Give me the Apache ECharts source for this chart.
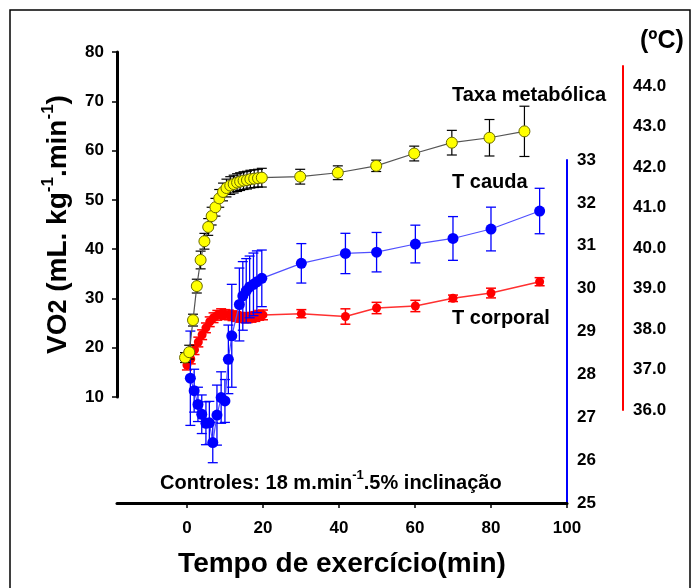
<!DOCTYPE html>
<html>
<head>
<meta charset="utf-8">
<script src="https://cdn.jsdelivr.net/npm/echarts@6/dist/echarts.min.js"></script>
<style>
  html, body { margin: 0; padding: 0; background: #fff; }
  #chart { width: 697px; height: 588px; }
</style>
</head>
<body>
<div id="chart"></div>
<script>
// Taxa metabólica (VO2, mL.kg-1.min-1) — left axis
const taxaTime = [-0.5, 0.6, 1.6, 2.6, 3.6, 4.6, 5.6, 6.5, 7.5, 8.5, 9.5, 10.4, 11.4, 12.3, 13.2, 14.0, 14.9, 15.8, 16.7, 17.7, 18.7, 19.7,
                  29.8, 39.7, 49.8, 59.8, 69.7, 79.6, 88.8];
const taxaVal  = [18.0, 19.1, 25.6, 32.5, 37.8, 41.6, 44.5, 46.7, 48.5, 50.3, 51.6, 52.4, 52.9, 53.2, 53.5, 53.7, 53.9, 54.0, 54.2, 54.3, 54.4, 54.5,
                  54.7, 55.5, 56.9, 59.4, 61.6, 62.6, 63.9];
const taxaErr  = [1.0, 1.4, 1.2, 1.4, 1.8, 1.6, 1.7, 1.8, 1.8, 1.8, 1.8, 1.8, 1.8, 1.8, 1.8, 1.8, 1.8, 1.8, 1.8, 1.8, 1.8, 1.9,
                  1.5, 1.4, 1.15, 1.5, 2.5, 3.7, 5.1];

// T cauda (ºC) — blue axis
const caudaTime = [0.9, 1.9, 2.9, 3.9, 5.0, 5.9, 6.8, 7.9, 9.0, 10.0, 10.9, 11.8, 13.8, 14.7, 15.6, 16.5, 17.5, 18.4, 19.7,
                   30.1, 41.7, 49.9, 60.1, 70.0, 80.0, 92.8];
const caudaVal  = [27.91, 27.62, 27.30, 27.07, 26.86, 26.87, 26.41, 27.05, 27.46, 27.38, 28.35, 28.90, 29.63, 29.83, 29.95, 30.04, 30.10, 30.16, 30.24,
                   30.59, 30.82, 30.85, 31.04, 31.17, 31.39, 31.81];
const caudaErr  = [1.1, 0.5, 0.4, 0.45, 0.5, 0.5, 0.47, 0.7, 0.6, 0.5, 0.8, 1.2, 0.85, 0.8, 0.75, 0.72, 0.73, 0.72, 0.66,
                   0.46, 0.47, 0.46, 0.44, 0.51, 0.51, 0.53];

// T corporal (ºC) — red axis
const corpTime = [0, 1, 2, 3, 4, 5, 6, 7, 8, 9, 10, 11, 12, 13, 14, 15, 16, 17, 18, 19, 20,
                  30.1, 41.7, 49.9, 60.1, 70.0, 80.0, 92.8];
const corpVal  = [37.11, 37.26, 37.49, 37.68, 37.86, 38.03, 38.18, 38.28, 38.34, 38.38, 38.36, 38.35, 38.33, 38.31, 38.29, 38.28, 38.28, 38.29, 38.31, 38.34, 38.35,
                  38.38, 38.31, 38.52, 38.57, 38.76, 38.89, 39.17];
const corpErr  = [0.12, 0.12, 0.12, 0.12, 0.12, 0.12, 0.12, 0.12, 0.12, 0.12, 0.12, 0.12, 0.12, 0.12, 0.12, 0.12, 0.12, 0.12, 0.12, 0.12, 0.12,
                  0.1, 0.19, 0.14, 0.14, 0.08, 0.12, 0.1];

// Axis ticks
const timeTicks  = [0, 20, 40, 60, 80, 100];
const tempTicks  = [36, 37, 38, 39, 40, 41, 42, 43, 44];

const FONT = '"Liberation Sans", Arial, sans-serif';

function pairs(ts, vs) { return ts.map((t, i) => [t, vs[i]]); }

function errorBars(xIdx, yIdx, ts, vs, es, color, width, z) {
  return {
    type: 'custom',
    xAxisIndex: xIdx, yAxisIndex: yIdx,
    z: z, silent: true, clip: false,
    data: ts.map((t, i) => [t, vs[i] - es[i], vs[i] + es[i]]),
    encode: { x: 0, y: [1, 2] },
    renderItem: function (params, api) {
      const lo = api.coord([api.value(0), api.value(1)]);
      const hi = api.coord([api.value(0), api.value(2)]);
      const hw = 5;
      const st = { stroke: color, lineWidth: width };
      return {
        type: 'group',
        children: [
          { type: 'line', shape: { x1: lo[0], y1: lo[1], x2: hi[0], y2: hi[1] }, style: st },
          { type: 'line', shape: { x1: lo[0] - hw, y1: lo[1], x2: lo[0] + hw, y2: lo[1] }, style: st },
          { type: 'line', shape: { x1: hi[0] - hw, y1: hi[1], x2: hi[0] + hw, y2: hi[1] }, style: st }
        ]
      };
    }
  };
}

const GL = 117, GR = 130;
const hiddenX = (gi) => ({
  type: 'value', gridIndex: gi, min: -18.4, max: 100,
  show: false, splitLine: { show: false }
});

const chart = echarts.init(document.getElementById('chart'), null, { renderer: 'canvas' });

chart.setOption({
  animation: false,
  backgroundColor: '#fff',
  textStyle: { fontFamily: FONT },
  grid: [
    { left: GL, right: GR, top: 52, height: 345 },   // VO2
    { left: GL, right: GR, top: 160, height: 343 },  // T cauda
    { left: GL, right: GR, top: 66, height: 344 }    // T corporal
  ],
  xAxis: [
    hiddenX(0),
    {
      type: 'value', gridIndex: 1, min: -18.4, max: 100,
      axisLine: { show: true, onZero: false, lineStyle: { color: '#000', width: 3 } },
      axisTick: { show: true, inside: false, length: 5, customValues: timeTicks, lineStyle: { color: '#000', width: 1.5 } },
      axisLabel: { customValues: timeTicks, margin: 17, color: '#000', fontSize: 17, fontWeight: 'bold', fontFamily: FONT },
      splitLine: { show: false },
      name: 'Tempo de exercício(min)',
      nameLocation: 'middle', nameGap: 47,
      nameTextStyle: { color: '#000', fontSize: 28, fontWeight: 'bold', fontFamily: FONT }
    },
    hiddenX(2)
  ],
  yAxis: [
    {
      type: 'value', gridIndex: 0, position: 'left', min: 10, max: 80, interval: 10,
      axisLine: { show: true, onZero: false, lineStyle: { color: '#000', width: 3 } },
      axisTick: { show: true, inside: false, length: 5, lineStyle: { color: '#000', width: 1.5 } },
      axisLabel: { margin: 13, color: '#000', fontSize: 17, fontWeight: 'bold', fontFamily: FONT },
      splitLine: { show: false },
      name: '{m|VO}{s|2}{m| (mL. kg}{p|-1}{m|.min}{p|-1}{m|)}',
      nameLocation: 'middle', nameGap: 45, nameRotate: 90,
      nameTextStyle: {
        color: '#000', fontFamily: FONT,
        rich: {
          m: { fontSize: 28, fontWeight: 'bold', color: '#000', fontFamily: FONT, lineHeight: 32, verticalAlign: 'bottom' },
          s: { fontSize: 25, fontWeight: 'bold', color: '#000', fontFamily: FONT, lineHeight: 32, verticalAlign: 'bottom' },
          p: { fontSize: 17, fontWeight: 'bold', color: '#000', fontFamily: FONT, lineHeight: 32, verticalAlign: 'top' }
        }
      }
    },
    {
      type: 'value', gridIndex: 1, position: 'right', min: 25, max: 33, interval: 1,
      axisLine: { show: true, onZero: false, lineStyle: { color: '#0000ff', width: 2 } },
      axisTick: { show: false },
      axisLabel: { margin: 10, color: '#000', fontSize: 17, fontWeight: 'bold', fontFamily: FONT },
      splitLine: { show: false }
    },
    {
      type: 'value', gridIndex: 2, position: 'right', offset: 56, min: 36, max: 44.5,
      axisLine: { show: true, onZero: false, lineStyle: { color: '#ff0000', width: 2 } },
      axisTick: { show: false },
      axisLabel: {
        customValues: tempTicks, margin: 10, color: '#000', fontSize: 17, fontWeight: 'bold', fontFamily: FONT,
        formatter: v => v.toFixed(1)
      },
      splitLine: { show: false }
    }
  ],
  graphic: [
    { type: 'rect', shape: { x: 10, y: 10, width: 680, height: 600 }, style: { fill: 'none', stroke: '#000', lineWidth: 1.5 }, z: 0 },
    { type: 'text', left: 640, top: 29, style: { text: '(ºC)', fill: '#000', font: 'bold 25px ' + FONT } },
    { type: 'text', left: 452, top: 85, style: { text: 'Taxa metabólica', fill: '#000', font: 'bold 20px ' + FONT } },
    { type: 'text', left: 452, top: 172, style: { text: 'T cauda', fill: '#000', font: 'bold 20px ' + FONT } },
    { type: 'text', left: 452, top: 308, style: { text: 'T corporal', fill: '#000', font: 'bold 20px ' + FONT } },
    {
      type: 'text', left: 160, top: 469,
      style: {
        text: '{a|Controles: 18 m.min}{b|-1}{a|.5% inclinação}',
        rich: {
          a: { fontSize: 20, fontWeight: 'bold', fill: '#000', fontFamily: FONT, lineHeight: 24, verticalAlign: 'bottom' },
          b: { fontSize: 13, fontWeight: 'bold', fill: '#000', fontFamily: FONT, lineHeight: 24, verticalAlign: 'top' }
        }
      }
    }
  ],
  series: [
    errorBars(2, 2, corpTime, corpVal, corpErr, '#ff0000', 1.5, 2),
    {
      type: 'line', xAxisIndex: 2, yAxisIndex: 2, z: 3,
      data: pairs(corpTime, corpVal),
      symbol: 'circle', symbolSize: 9,
      lineStyle: { color: '#ff3030', width: 1.5 },
      itemStyle: { color: '#ff0000', borderColor: '#ff0000', borderWidth: 0 }
    },
    errorBars(1, 1, caudaTime, caudaVal, caudaErr, '#0000ff', 1.3, 4),
    {
      type: 'line', xAxisIndex: 1, yAxisIndex: 1, z: 5,
      data: pairs(caudaTime, caudaVal),
      symbol: 'circle', symbolSize: 11,
      lineStyle: { color: '#5050ff', width: 1.2 },
      itemStyle: { color: '#0000ff', borderColor: '#0000ff', borderWidth: 0 }
    },
    errorBars(0, 0, taxaTime, taxaVal, taxaErr, '#000000', 1.2, 6),
    {
      type: 'line', xAxisIndex: 0, yAxisIndex: 0, z: 7,
      data: pairs(taxaTime, taxaVal),
      symbol: 'circle', symbolSize: 11,
      lineStyle: { color: '#555', width: 1.2 },
      itemStyle: { color: '#ffff00', borderColor: '#6b6b00', borderWidth: 1 }
    }
  ]
});
</script>
</body>
</html>
